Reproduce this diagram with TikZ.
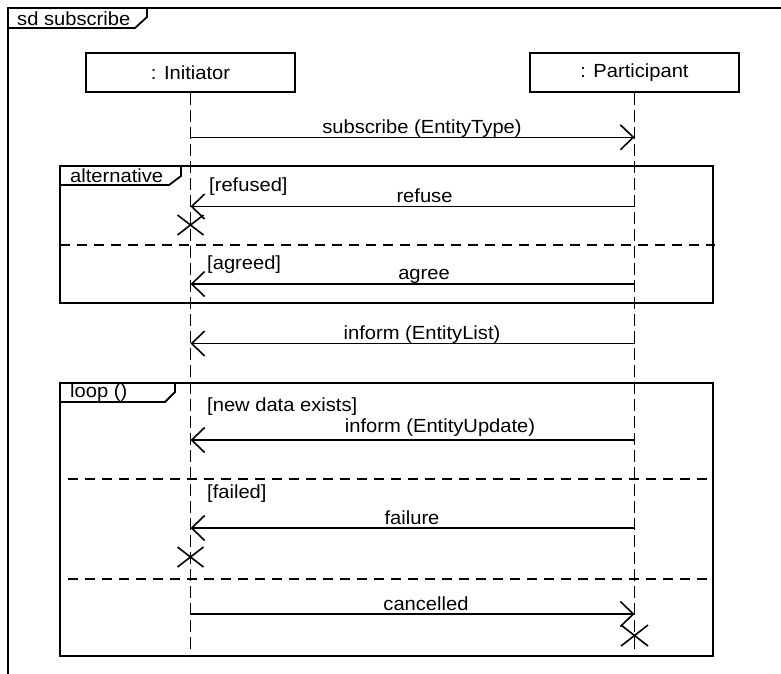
\documentclass[tikz,border=0pt]{standalone}
\usepackage{fontspec}
\setmainfont{Liberation Sans}[FakeStretch=1.06]
\usetikzlibrary{arrows.meta}

\tikzset{
  frameline/.style={line width=1.8pt, line cap=rect},
  lifebox/.style={draw, line width=1.8pt, minimum width=209pt, minimum height=39pt,
    inner sep=0pt, font=\umlfont},
  lifeline/.style={line width=1.6pt, dash pattern=on 12pt off 5pt},
  msg/.style={line width=1.6pt, -{Straight Barb[length=13pt, width=25pt, line width=1.6pt]}},
  msglabel/.style={anchor=base, inner sep=0pt, font=\umlfont},
  guard/.style={anchor=base west, inner sep=0pt, font=\umlfont},
  separator/.style={line width=1.6pt, dash pattern=on 10pt off 7pt},
  destroy/.style={line width=1.6pt},
}
\newcommand\umlfont{\fontsize{19}{22}\selectfont}

\begin{document}
\begin{tikzpicture}[x=1pt, y=-1pt]
\useasboundingbox (0,0) rectangle (781,673);

% diagram frame (only its top and left edges lie inside the page)
\draw[frameline] (781,8) -- (8,8) -- (8,673);
\draw[frameline] (8,28) -- (135,28) -- (147,17) -- (147,8);
\node[guard] (sdlabel) at (17,25) {sd subscribe};

% lifeline heads
\node[lifebox] (ini) at (190.5,72.5) {: Initiator};
\node[lifebox] (par) at (634.5,72.5) {: Participant};

% lifeline ends
\coordinate (iniend) at (190.5,649);
\coordinate (parend) at (634.5,649);
\draw[lifeline] (ini.south) -- (iniend);
\draw[lifeline] (par.south) -- (parend);

% message anchor points on the lifelines
\foreach \n/\y in {1/137.3, 2/206.5, 3/284, 4/343.5, 5/440, 6/528, 7/614}{
  \coordinate (i\n) at (190.5,\y);
  \coordinate (p\n) at (634.5,\y);
}

% subscribe
\draw[msg] (i1) -- (p1);
\node[msglabel] (m1) at (422,133.5) {subscribe (EntityType)};

% alternative fragment
\draw[frameline] (60,166) rectangle (713,303);
\draw[frameline] (60,185) -- (169,185) -- (181,176) -- (181,166);
\node[guard] (altlabel) at (70,182.5) {alternative};
\draw[separator] (60,245) -- (715,245);

\draw[msg] (p2) -- (i2);
\node[msglabel] (m2) at (424.5,202) {refuse};
\node[guard] (g2) at (209,191.5) {[refused]};
\draw[destroy] (177.5,215) -- (203.5,235) (177.5,235) -- (203.5,215);

\draw[msg] (p3) -- (i3);
\node[msglabel] (m3) at (424,279.5) {agree};
\node[guard] (g3) at (207,269) {[agreed]};

% inform
\draw[msg] (p4) -- (i4);
\node[msglabel] (m4) at (422,339.5) {inform (EntityList)};

% loop fragment
\draw[frameline] (60,383) rectangle (713,656);
\draw[frameline] (60,402) -- (165,402) -- (175,392) -- (175,383);
\node[guard] (looplabel) at (70,397) {loop ()};

\draw[msg] (p5) -- (i5);
\node[msglabel] (m5) at (440,432) {inform (EntityUpdate)};
\node[guard] (g5) at (207,411) {[new data exists]};
\draw[separator] (68,479) -- (713,479);

\draw[msg] (p6) -- (i6);
\node[msglabel] (m6) at (412,524) {failure};
\node[guard] (g6) at (207,498) {[failed]};
\draw[destroy] (177.5,547) -- (203.5,567) (177.5,567) -- (203.5,547);
\draw[separator] (68,579) -- (713,579);

\draw[msg] (i7) -- (p7);
\node[msglabel] (m7) at (426,610) {cancelled};
\draw[destroy] (621,625) -- (648,646) (621,646) -- (648,625);
\end{tikzpicture}
\end{document}
